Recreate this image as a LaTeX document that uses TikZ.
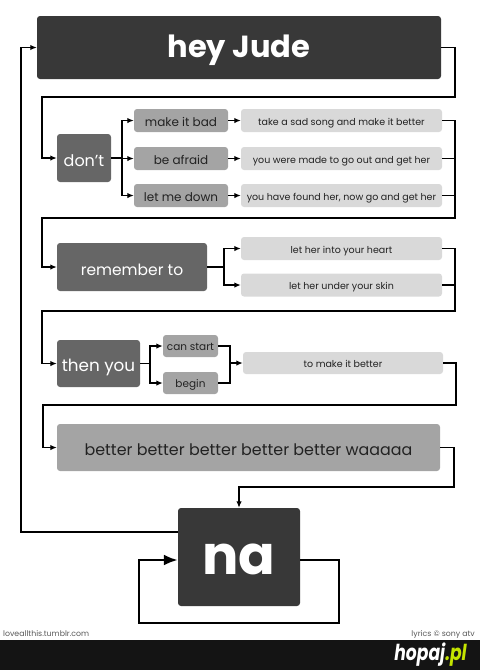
\documentclass[tikz,border=0pt]{standalone}
\usepackage{fontspec}
\setmainfont{Poppins}[Ligatures=NoCommon]
\usetikzlibrary{arrows.meta,positioning}
\definecolor{JudeDark}{HTML}{383838}
\definecolor{JudeMid}{HTML}{666666}
\definecolor{JudeGrey}{HTML}{A4A4A4}
\definecolor{JudeLight}{HTML}{D9D9D9}
\definecolor{JudeText}{HTML}{222222}
\definecolor{HopajGreen}{HTML}{C4E400}

\begin{document}
\begin{tikzpicture}[
  x=1pt,y=-1pt,
  box/.style={rounded corners=3pt,inner sep=0pt,align=center,text depth=0pt},
  darkbox/.style={box,fill=JudeDark,text=white,text height=19pt,font=\fontsize{30.5}{32}\selectfont\bfseries},
  midbox/.style={box,fill=JudeMid,text=white,text height=16pt,font=\fontsize{16}{18}\selectfont},
  greybox/.style={box,fill=JudeGrey,text=JudeText,text height=11pt,font=\fontsize{12}{14}\selectfont,
    minimum height=23pt},
  lightbox/.style={box,fill=JudeLight,text=JudeText,text height=9.6pt,font=\fontsize{9.5}{11}\selectfont,
    minimum width=201pt,minimum height=23pt},
  wire/.style={line width=1.4pt,draw=black},
  flow/.style={wire,-{Latex[length=6.5pt,width=5.5pt]}},
  loopback/.style={line width=2.6pt,draw=black,-{Latex[length=14pt,width=11pt]}},
  footer/.style={font=\fontsize{7.8}{9}\selectfont,text=black!65,inner sep=0pt}
]
  \useasboundingbox (0,0) rectangle (480,670);

  % boxes
  \node[darkbox,minimum width=404pt,minimum height=63pt] (jude) at (239,47.5) {hey Jude};

  \node[midbox,minimum width=54pt,minimum height=48pt] (dont) at (84,158) {don't};
  \foreach \n/\y/\lab/\lyr/\txt in {bad/120.5/make it bad/sad/take a sad song and make it better,
      afraid/158.5/be afraid/made/you were made to go out and get her,
      down/195.5/let me down/found/{you have found her, now go and get her}}{
    \node[greybox,minimum width=94pt] (\n) at (181,\y) {\lab};
    \node[lightbox] (\lyr) at (341.5,\y) {\txt};
  }

  \node[midbox,font=\fontsize{15.5}{17}\selectfont,minimum width=150pt,minimum height=48pt] (remember) at (132,267) {remember to};
  \node[lightbox] (heart) at (341.5,248.5) {let her into your heart};
  \node[lightbox] (skin) at (341.5,285) {let her under your skin};

  \node[midbox,font=\fontsize{16.8}{18}\selectfont,minimum width=83pt,minimum height=47pt] (thenyou) at (98.5,363.5) {then you};
  \node[greybox,font=\fontsize{10.5}{12}\selectfont,text height=9.4pt,minimum width=55pt,minimum height=22pt] (start) at (190.5,346) {can start};
  \node[greybox,font=\fontsize{10.5}{12}\selectfont,text height=9.4pt,minimum width=55pt,minimum height=22pt] (begin) at (190.5,383) {begin};
  \node[lightbox,minimum width=200pt,minimum height=22pt] (better) at (343,363) {to make it better};

  \node[box,fill=JudeGrey,text=JudeText,text height=15pt,font=\fontsize{15.9}{17}\selectfont,
        minimum width=383pt,minimum height=47pt] (waaaaa) at (248.5,447.5)
    {better better better better better waaaaa};

  \node[darkbox,text height=34pt,font=\fontsize{54}{54}\selectfont\bfseries,minimum width=122pt,minimum height=98pt] (na) at (239,557) {na};

  % connectors
  \draw[flow] (jude.east) -- (455,47.5) |- (42,97) |- (dont.west);
  \foreach \n/\lyr in {bad/sad,afraid/made,down/found}{
    \draw[flow] (dont.east) -- (122,158) |- (\n.west);
    \draw[flow] (\n.east) -- (\lyr.west);
  }
  \draw[wire] (made.east) -- (455,158.5);
  \draw[wire] (found.east) -- (455,195.5);
  \draw[flow] (sad.east) -| (455,218) -- (42,218) |- (remember.west);

  \draw[flow] (remember.east) -- (224,267) |- (heart.west);
  \draw[flow] (remember.east) -- (224,267) |- (skin.west);
  \draw[wire] (skin.east) -- (455,285);
  \draw[flow] (heart.east) -| (455,311) -- (42,311) |- (thenyou.west);

  \draw[flow] (thenyou.east) -- (150,363.5) |- (start.west);
  \draw[flow] (thenyou.east) -- (150,363.5) |- (begin.west);
  \coordinate (join) at (230,363);
  \draw[wire] (start.east) -| (230,383) -- (begin.east);
  \draw[flow] (join) -- (better.west);
  \draw[flow] (better.east) -| (456,405) -- (43,405) |- (waaaaa.west);

  \draw[flow] (waaaaa.east) -| (454,487) -| (na.north);
  \draw[flow] ([yshift=25pt]na.west) -| (21,47.5) -- (jude.west);
  \draw[loopback] ([yshift=-3pt]na.east) -- (339,560) |- (139,623) |- ([yshift=-3pt]na.west);

  % footer
  \node[footer,anchor=base west] (site) at (3,636) {loveallthis.tumblr.com};
  \node[footer,anchor=base east] (rights) at (475,636) {lyrics © sony atv};
  \fill[black!92] (0,640) rectangle (480,670);
  \node[text=white,inner sep=0pt,anchor=east,font=\fontsize{22}{22}\selectfont\bfseries\itshape] (logo) at (467,655)
    {\scalebox{0.78}[1]{hopaj\textcolor{HopajGreen}{.pl}}};
\end{tikzpicture}
\end{document}
